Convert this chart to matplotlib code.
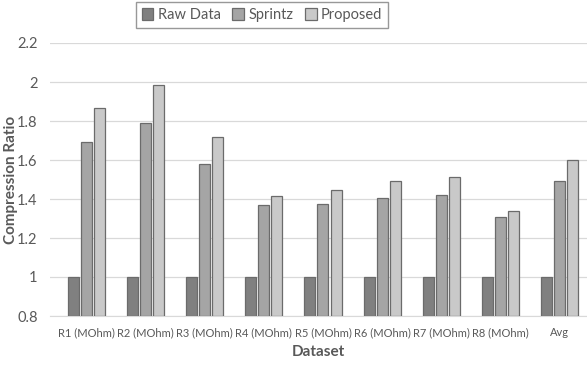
import matplotlib.pyplot as plt
import numpy as np

categories = ["R1 (MOhm)", "R2 (MOhm)", "R3 (MOhm)", "R4 (MOhm)", "R5 (MOhm)",
              "R6 (MOhm)", "R7 (MOhm)", "R8 (MOhm)", "Avg"]
raw_data = [1, 1, 1, 1, 1, 1, 1, 1, 1]
sprintz = [1.69, 1.79, 1.58, 1.37, 1.375, 1.405, 1.42, 1.31, 1.49]
proposed = [1.865, 1.985, 1.72, 1.415, 1.445, 1.49, 1.515, 1.34, 1.598]
yticks = [0.8, 1, 1.2, 1.4, 1.6, 1.8, 2, 2.2]

plt.rcParams['font.family'] = ['Lato', 'DejaVu Sans']
text_col = "#595959"

fig = plt.figure(figsize=(5.87, 3.65), dpi=100)
ax = fig.add_axes([50/587, 49/365, 537/587, 273/365])

x = np.arange(len(categories))
w = 0.186
off = 0.22
series = [("Raw Data", raw_data, "#808080"),
          ("Sprintz", sprintz, "#a5a5a5"),
          ("Proposed", proposed, "#c9c9c9")]
for i, (name, vals, col) in enumerate(series):
    ax.bar(x + (i - 1) * off, np.array(vals) - 0.8, w, bottom=0.8, color=col,
           edgecolor="#6b6b6b", linewidth=0.9, label=name, zorder=3)

ax.set_xlim(-0.617, 8.465)
ax.set_ylim(0.8, 2.2)
ax.set_yticks(yticks)
ax.set_yticklabels(["0.8", "1", "1.2", "1.4", "1.6", "1.8", "2", "2.2"],
                   fontsize=10.5, color=text_col)
ax.set_xticks(x)
ax.set_xticklabels(categories, fontsize=8, color=text_col)
ax.tick_params(length=0)
ax.tick_params(axis="y", pad=9)
ax.tick_params(axis="x", pad=8)
ax.grid(axis="y", color="#d9d9d9", linewidth=0.9, zorder=0)
for s in ["top", "right", "left"]:
    ax.spines[s].set_visible(False)
ax.spines["bottom"].set_color("#d9d9d9")

ax.set_xlabel("Dataset", fontsize=11, fontweight="bold", color=text_col, labelpad=5)
ax.set_ylabel("Compression Ratio", fontsize=11, fontweight="bold", color=text_col)
ax.yaxis.set_label_coords(-0.06, 0.5)

fig.legend(loc="center", bbox_to_anchor=(262/587, 1 - 15/365), ncol=3,
           fontsize=10.5, frameon=True, fancybox=False, edgecolor="#7f7f7f",
           handlelength=0.8, handleheight=0.8, handletextpad=0.3,
           columnspacing=0.8, labelcolor=text_col, borderpad=0.4)

fig.savefig("out.png", dpi=100)
